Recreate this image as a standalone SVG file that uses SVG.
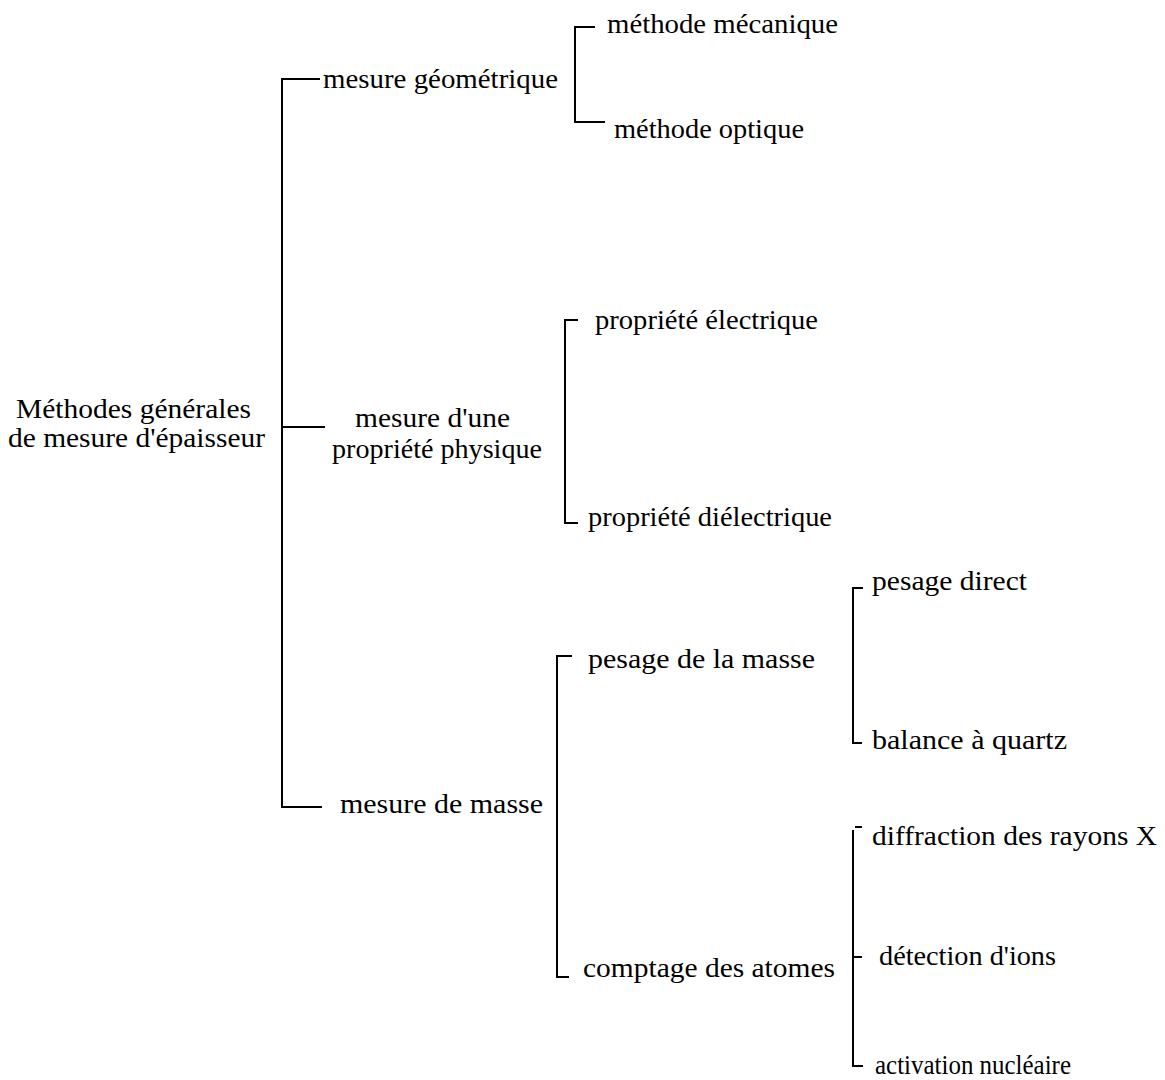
<svg xmlns="http://www.w3.org/2000/svg" width="1165" height="1080" viewBox="0 0 1165 1080">
<style>
text{font-family:"Liberation Serif","Times New Roman",serif;font-size:28px;fill:#000}
.c line{stroke:#000;stroke-width:2;fill:none}
</style>
<rect width="1165" height="1080" fill="#fff"/>
<g class="c" id="connectors">
<line x1="282" y1="79" x2="282" y2="807"/>
<line x1="281" y1="79" x2="320" y2="79"/>
<line x1="282" y1="427" x2="325" y2="427"/>
<line x1="281" y1="807" x2="322" y2="807"/>
<line x1="575" y1="27" x2="575" y2="122"/>
<line x1="574" y1="27" x2="595" y2="27"/>
<line x1="574" y1="122" x2="605" y2="122"/>
<line x1="565" y1="320" x2="565" y2="523"/>
<line x1="564" y1="320" x2="578" y2="320"/>
<line x1="564" y1="523" x2="578" y2="523"/>
<line x1="557" y1="656" x2="557" y2="977"/>
<line x1="556" y1="656" x2="572" y2="656"/>
<line x1="556" y1="977" x2="569" y2="977"/>
<line x1="853" y1="588" x2="853" y2="743"/>
<line x1="852" y1="588" x2="863" y2="588"/>
<line x1="852" y1="743" x2="862" y2="743"/>
<line x1="853" y1="830" x2="853" y2="1066"/>
<line x1="855" y1="827" x2="862" y2="827"/>
<line x1="853" y1="957" x2="862" y2="957"/>
<line x1="852" y1="1066" x2="863" y2="1066"/>
</g>
<g id="root"><text x="16" y="418" textLength="235" lengthAdjust="spacingAndGlyphs">Méthodes générales</text><text x="8" y="447" textLength="257" lengthAdjust="spacingAndGlyphs">de mesure d'épaisseur</text></g>
<g id="geo"><text x="323" y="88" textLength="235" lengthAdjust="spacingAndGlyphs">mesure géométrique</text></g>
<g id="meca"><text x="607" y="33" textLength="231" lengthAdjust="spacingAndGlyphs">méthode mécanique</text></g>
<g id="optique"><text x="614" y="138" textLength="190" lengthAdjust="spacingAndGlyphs">méthode optique</text></g>
<g id="phys"><text x="355" y="427" textLength="155" lengthAdjust="spacingAndGlyphs">mesure d'une</text><text x="332" y="458" textLength="210" lengthAdjust="spacingAndGlyphs">propriété physique</text></g>
<g id="elec"><text x="595" y="329" textLength="223" lengthAdjust="spacingAndGlyphs">propriété électrique</text></g>
<g id="diel"><text x="588" y="526" textLength="244" lengthAdjust="spacingAndGlyphs">propriété diélectrique</text></g>
<g id="masse"><text x="340" y="813" textLength="203" lengthAdjust="spacingAndGlyphs">mesure de masse</text></g>
<g id="pesage"><text x="588" y="668" textLength="227" lengthAdjust="spacingAndGlyphs">pesage de la masse</text></g>
<g id="direct"><text x="872" y="590" textLength="155" lengthAdjust="spacingAndGlyphs">pesage direct</text></g>
<g id="quartz"><text x="872" y="749" textLength="195" lengthAdjust="spacingAndGlyphs">balance à quartz</text></g>
<g id="comptage"><text x="583" y="977" textLength="252" lengthAdjust="spacingAndGlyphs">comptage des atomes</text></g>
<g id="rx"><text x="872" y="845" textLength="285" lengthAdjust="spacingAndGlyphs">diffraction des rayons X</text></g>
<g id="ions"><text x="879" y="965" textLength="177" lengthAdjust="spacingAndGlyphs">détection d'ions</text></g>
<g id="nucl"><text x="875" y="1074" textLength="196" lengthAdjust="spacingAndGlyphs">activation nucléaire</text></g>
</svg>
